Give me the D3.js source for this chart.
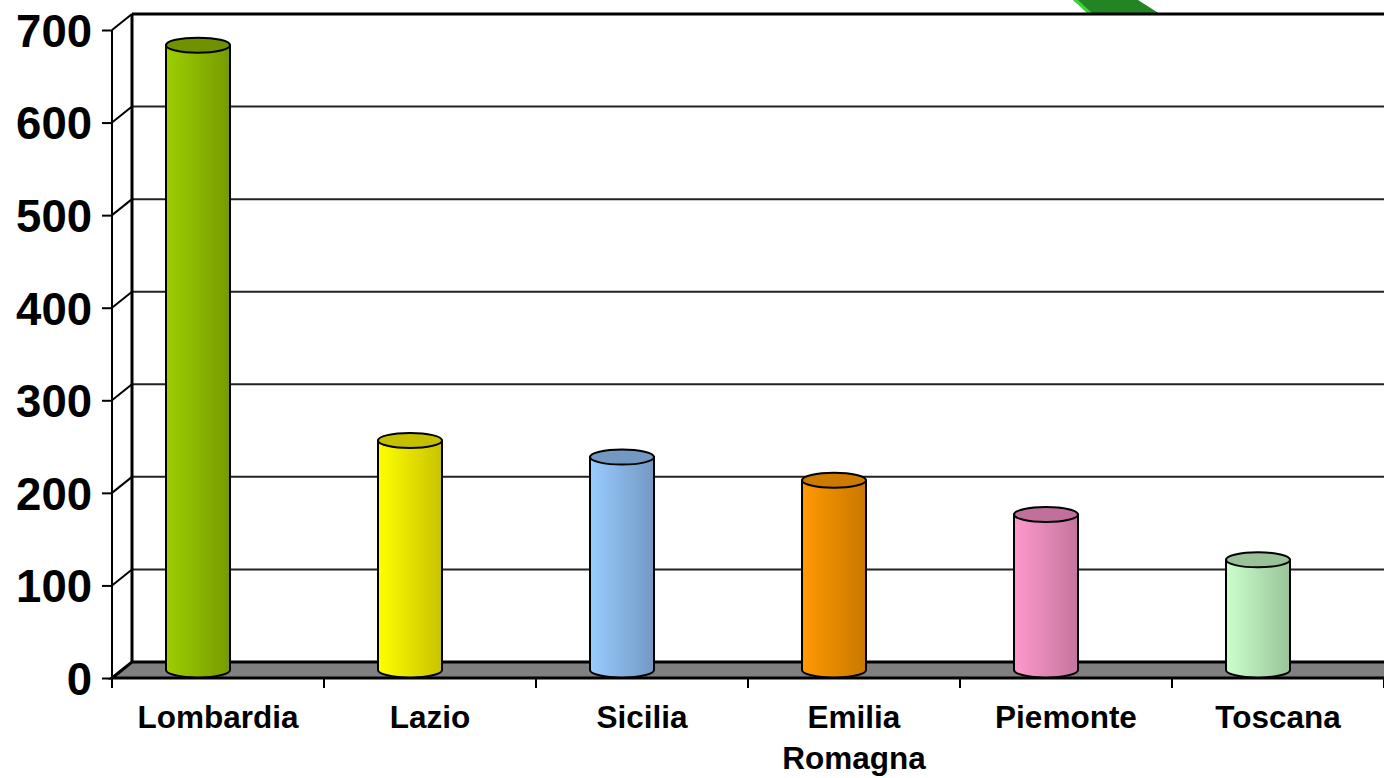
<!DOCTYPE html>
<html><head><meta charset="utf-8">
<script src="https://cdn.jsdelivr.net/npm/d3@7"></script>
<style>html,body{margin:0;padding:0;background:#fff;overflow:hidden}svg{display:block}</style>
</head><body>
<svg id="c" width="1384" height="778"></svg>
<script>
const categories = ["Lombardia", "Lazio", "Sicilia", "Emilia Romagna", "Piemonte", "Toscana"];
const labelLines = [["Lombardia"], ["Lazio"], ["Sicilia"], ["Emilia", "Romagna"], ["Piemonte"], ["Toscana"]];
const values = [675, 248, 230, 205, 168, 119];
const yTicks = [0, 100, 200, 300, 400, 500, 600, 700];
const lightColors = ["#9ccf00", "#ffff00", "#99ccff", "#ff9900", "#ff99cc", "#ccffcc"];
const darkColors  = ["#779a00", "#c9c200", "#7398c2", "#c97800", "#c4759e", "#99c499"];
const topColors   = ["#6e9200", "#c4c000", "#7399c2", "#cc7a00", "#c0709a", "#99c299"];

const svg = d3.select("#c");
const DX = 20, DY = -16; // depth offset of back wall
const x = d3.scaleBand().domain(categories).range([112, 1384]).padding(0);
const y = d3.scaleLinear().domain([0, 700]).range([678, 30]);
const font = "'Liberation Sans', Arial, sans-serif";

// decorative green shape at top
svg.append("polygon").attr("points", "1073,0 1138,0 1160,14 1090,14").attr("fill", "#238423");
svg.append("polygon").attr("points", "1073,0 1078,0 1093,14 1088,14").attr("fill", "#3fcf3f");

// back wall gridlines
const g = svg.append("g");
yTicks.forEach(t => {
  if (t === 0) return;
  g.append("line").attr("x1", 112 + DX).attr("x2", 1400).attr("y1", y(t) + DY).attr("y2", y(t) + DY)
    .attr("stroke", t === 700 ? "#000" : "#222").attr("stroke-width", t === 700 ? 3 : 2);
  g.append("line").attr("x1", 112).attr("y1", y(t)).attr("x2", 112 + DX).attr("y2", y(t) + DY)
    .attr("stroke", "#000").attr("stroke-width", 2);
});
// left wall back edge
g.append("line").attr("x1", 112 + DX).attr("x2", 112 + DX).attr("y1", y(700) + DY).attr("y2", y(0) + DY)
  .attr("stroke", "#000").attr("stroke-width", 3);

// floor
svg.append("polygon")
  .attr("points", [[112, y(0)], [112 + DX, y(0) + DY], [1400, y(0) + DY], [1400, y(0)]].map(p => p.join(",")).join(" "))
  .attr("fill", "#808080").attr("stroke", "#000").attr("stroke-width", 3).attr("stroke-linejoin", "miter");

// front value axis
const yAxis = d3.axisLeft(y).tickValues(yTicks).tickSize(10).tickPadding(10).tickFormat(d3.format("d"));
const ya = svg.append("g").attr("transform", "translate(112,0)").call(yAxis);
ya.select(".domain").attr("stroke", "#000").attr("stroke-width", 2).attr("d", `M0,${y(700)}V${y(0)}`);
ya.selectAll(".tick line").attr("stroke", "#000").attr("stroke-width", 2);
ya.selectAll(".tick text").attr("font-family", font).attr("font-weight", "bold").attr("font-size", 45.5)
  .attr("fill", "#000").attr("dy", "0.36em");

// category axis ticks
const edges = categories.map(c => x(c)).concat([x.range()[1]]);
svg.selectAll(".xt").data(edges).enter().append("line")
  .attr("x1", d => d).attr("x2", d => d).attr("y1", y(0)).attr("y2", y(0) + 10)
  .attr("stroke", "#000").attr("stroke-width", 2);

// gradients
const defs = svg.append("defs");
categories.forEach((c, i) => {
  const gr = defs.append("linearGradient").attr("id", "gr" + i).attr("x1", "0").attr("x2", "1").attr("y1", "0").attr("y2", "0");
  gr.append("stop").attr("offset", "0%").attr("stop-color", lightColors[i]);
  gr.append("stop").attr("offset", "100%").attr("stop-color", darkColors[i]);
});

// cylinders
const rx = 32, ry = 7.5;
const bars = svg.selectAll(".bar").data(categories).enter().append("g");
bars.append("path")
  .attr("d", (c, i) => {
    const cx = x(c) + x.bandwidth() / 2 - 20;
    const ty = y(values[i]) - 8, by = y(0) - 8;
    return `M${cx - rx},${ty} L${cx - rx},${by} A${rx},${ry} 0 0 0 ${cx + rx},${by} L${cx + rx},${ty} Z`;
  })
  .attr("fill", (c, i) => `url(#gr${i})`).attr("stroke", "#000").attr("stroke-width", 2);
bars.append("ellipse")
  .attr("cx", c => x(c) + x.bandwidth() / 2 - 20)
  .attr("cy", (c, i) => y(values[i]) - 8)
  .attr("rx", rx).attr("ry", ry)
  .attr("fill", (c, i) => topColors[i]).attr("stroke", "#000").attr("stroke-width", 2);

// category labels
const lab = svg.selectAll(".lab").data(categories).enter().append("text")
  .attr("x", c => x(c) + x.bandwidth() / 2)
  .attr("y", 728)
  .attr("text-anchor", "middle").attr("font-family", font).attr("font-weight", "bold").attr("font-size", 31.5).attr("fill", "#000");
lab.each(function (c, i) {
  d3.select(this).selectAll("tspan").data(labelLines[i]).enter().append("tspan")
    .attr("x", x(c) + x.bandwidth() / 2).attr("dy", (d, j) => j === 0 ? 0 : 41).text(d => d);
});
</script>
</body></html>
